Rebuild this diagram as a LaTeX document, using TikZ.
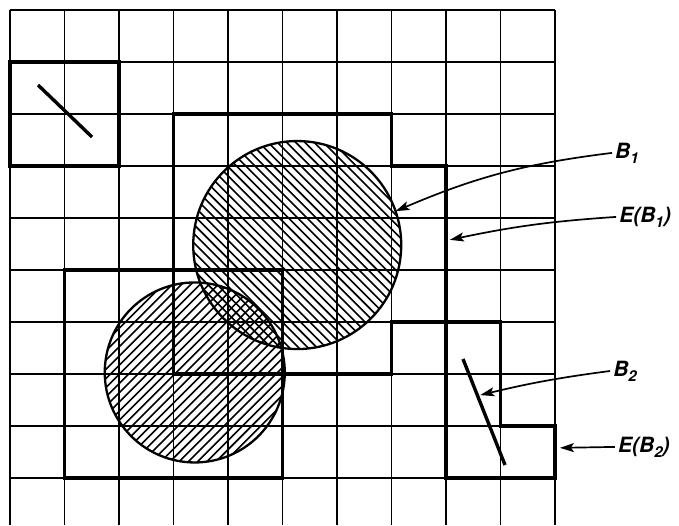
\documentclass[tikz,border=0pt]{standalone}
\usepackage{fontspec}
\setmainfont{TeX Gyre Heros}
\usetikzlibrary{arrows.meta,calc}

\newcommand{\subidx}[1]{\raisebox{-0.45ex}{\fontsize{15pt}{15pt}\selectfont #1}}

\begin{document}
\begin{tikzpicture}[
    x=54.5pt, y=52pt,
    gridline/.style={line width=1.6pt},
    region/.style={line width=3.5pt, line join=miter},
    segline/.style={line width=3.4pt},
    disc/.style={line width=2.3pt},
    hatch/.style={line width=1.6pt},
    pointer/.style={line width=1.7pt, -{Stealth[length=14pt, width=9pt, inset=3pt]}},
    lbl/.style={font=\fontsize{21pt}{21pt}\selectfont\bfseries\itshape, inner sep=3pt}
]
    \useasboundingbox (-0.1835,0.1923) rectangle (12.275,-9.904);

    % Grid of cells
    \foreach \i in {0,...,10}
        \draw[gridline] (\i,0) -- (\i,-9.904);
    \foreach \j in {0,...,9}
        \draw[gridline] (0,-\j) -- (10,-\j);

    % Discs
    \coordinate (c1) at (5.27,-4.52);
    \coordinate (c3) at (3.39,-6.97);
    \begin{scope}
        \clip (c1) circle[radius=104pt];
        \foreach \k in {-24,...,24}
            \draw[hatch] ($(c1)+(\k*9.2pt-120pt,120pt)$) -- ($(c1)+(\k*9.2pt+120pt,-120pt)$);
    \end{scope}
    \begin{scope}
        \clip (c3) circle[radius=90pt];
        \foreach \k in {-22,...,22}
            \draw[hatch] ($(c3)+(\k*9.2pt-110pt,-110pt)$) -- ($(c3)+(\k*9.2pt+110pt,110pt)$);
    \end{scope}
    \draw[disc] (c1) circle[radius=104pt];
    \draw[disc] (c3) circle[radius=90pt];

    % Cell sets E(.)
    \draw[region] (0,-1) rectangle (2,-3);
    \draw[region] (3,-2) -- (7,-2) -- (7,-3) -- (8,-3) -- (8,-6) -- (7,-6) -- (7,-7) -- (3,-7) -- cycle;
    \draw[region] (1,-5) rectangle (5,-9);
    \draw[region] (8,-6) -- (9,-6) -- (9,-8) -- (10,-8) -- (10,-9) -- (8,-9) -- cycle;

    % Segments
    \coordinate (s1a) at (0.514,-1.442);
    \coordinate (s1b) at (1.505,-2.442);
    \coordinate (b2a) at (8.312,-6.712);
    \coordinate (b2b) at (9.083,-8.75);
    \draw[segline] (s1a) -- (s1b);
    \draw[segline] (b2a) -- (b2b);

    % Labels
    \node[lbl, anchor=base west] (lblB1) at (11.046,-2.846) {B\subidx{1}};
    \node[lbl, anchor=base west] (lblEB1) at (11.12,-4.077) {E(B\subidx{1})};
    \node[lbl, anchor=base west] (lblB2) at (11.01,-7.04) {B\subidx{2}};
    \node[lbl, anchor=base west] (lblEB2) at (11.1,-8.5) {E(B\subidx{2})};

    % Arrow targets
    \coordinate (tB1) at ([shift={(19:104pt)}]c1);
    \coordinate (tEB1) at (8.07,-4.42);
    \coordinate (tB2) at ($(b2a)!0.34!(b2b)+(3pt,0)$);
    \coordinate (tEB2) at (10.09,-8.42);

    % Arrows
    \draw[pointer] (lblB1.west) to[bend right=8] (tB1);
    \draw[pointer] (lblEB1.west) to[bend right=4] (tEB1);
    \draw[pointer] (lblB2.west) to[bend right=3] (tB2);
    \draw[pointer] (lblEB2.west) -- (tEB2);

\end{tikzpicture}
\end{document}
